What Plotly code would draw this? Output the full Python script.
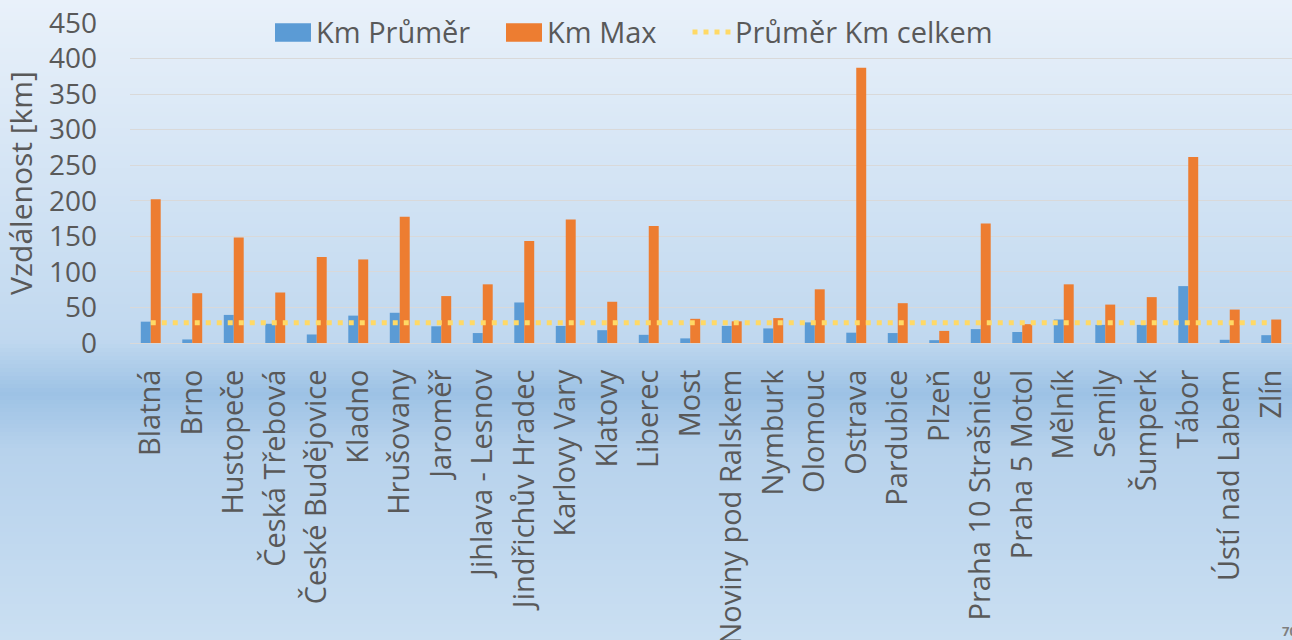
import plotly.graph_objects as go

categories = ["Blatná", "Brno", "Hustopeče", "Česká Třebová", "České Budějovice", "Kladno",
              "Hrušovany", "Jaroměř", "Jihlava - Lesnov", "Jindřichův Hradec", "Karlovy Vary",
              "Klatovy", "Liberec", "Most", "Noviny pod Ralskem", "Nymburk", "Olomouc", "Ostrava",
              "Pardubice", "Plzeň", "Praha 10 Strašnice", "Praha 5 Motol", "Mělník", "Semily",
              "Šumperk", "Tábor", "Ústí nad Labem", "Zlín"]
km_prumer = [30, 5, 39.5, 27, 12, 38.5, 42.5, 23.5, 14, 57, 24, 18, 11.5, 6.5, 24, 20.5, 29,
             14.5, 14, 4, 19.5, 15.5, 33, 25.5, 25.5, 80, 4.5, 11]
km_max = [202, 70, 148.5, 71, 121, 117.5, 177.5, 66, 82.5, 143.5, 173.5, 58, 164.5, 34, 30.5,
          35, 75.5, 387, 56, 17, 168, 26.5, 82.5, 54, 64.5, 261.5, 47, 33]
prumer_celkem = 28.5
y_ticks = [0, 50, 100, 150, 200, 250, 300, 350, 400, 450]
series_names = ["Km Průměr", "Km Max", "Průměr Km celkem"]
series_colors = ["#5B9BD5", "#ED7D31", "#FFD966"]

FONT = "Open Sans"
TXT = "#595959"
W, H = 1292, 640
M_L, M_R, M_T, M_B = 130, 0, 23, 297
ph = H - M_T - M_B
pw = W - M_L - M_R


def px_x(p):
    return (p - M_L) / pw


def px_y(p):
    return (H - M_B - p) / ph


fig = go.Figure()
fig.add_trace(go.Bar(name=series_names[0], x=categories, y=km_prumer,
                     marker_color=series_colors[0], marker_line_width=0))
fig.add_trace(go.Bar(name=series_names[1], x=categories, y=km_max,
                     marker_color=series_colors[1], marker_line_width=0))
fig.add_trace(go.Scatter(name=series_names[2], x=categories,
                         y=[prumer_celkem] * len(categories), mode="lines",
                         line=dict(color=series_colors[2], width=5, dash="5px,6px")))

# background gradient (stripes in paper coordinates)
stops = [(0, (233, 241, 250)), (340, (192, 216, 239)), (393, (157, 194, 229)),
         (450, (183, 210, 236)), (640, (202, 223, 242))]


def col_at(p):
    for (p0, c0), (p1, c1) in zip(stops[:-1], stops[1:]):
        if p0 <= p <= p1:
            t = (p - p0) / (p1 - p0)
            return "rgb(%d,%d,%d)" % tuple(round(a + (b - a) * t) for a, b in zip(c0, c1))
    return "rgb(%d,%d,%d)" % stops[-1][1]


shapes = []
step = 4
for p in range(0, H, step):
    shapes.append(dict(type="rect", xref="paper", yref="paper", x0=px_x(-5), x1=px_x(W + 5),
                       y0=px_y(p + step), y1=px_y(p), fillcolor=col_at(p + step / 2),
                       line_width=0, layer="below"))

# legend (drawn manually to match swatch sizes)
leg_y_top, leg_y_bot, leg_y_mid = 23.3, 41.7, 32
swatches = [(275, 311), (506, 542)]
text_x = [314, 545, 733]
annotations = []
for (a, b), c in zip(swatches, series_colors[:2]):
    shapes.append(dict(type="rect", xref="paper", yref="paper", x0=px_x(a), x1=px_x(b),
                       y0=px_y(leg_y_bot), y1=px_y(leg_y_top), fillcolor=c, line_width=0,
                       layer="above"))
shapes.append(dict(type="line", xref="paper", yref="paper", x0=px_x(692.5), x1=px_x(733),
                   y0=px_y(leg_y_mid), y1=px_y(leg_y_mid),
                   line=dict(color=series_colors[2], width=5, dash="5px,6px"), layer="above"))
for name, tx in zip(series_names, text_x):
    annotations.append(dict(text=name, x=px_x(tx), xref="paper", xanchor="left",
                            y=px_y(leg_y_mid), yref="paper", yanchor="middle",
                            showarrow=False, font=dict(size=29, color=TXT, family=FONT)))
annotations.append(dict(text="<b>70</b>", x=px_x(1280), xref="paper", xanchor="left",
                        y=px_y(631), yref="paper", yanchor="middle", showarrow=False,
                        font=dict(size=13, color="#7F7F7F", family=FONT)))

fig.update_layout(
    width=W, height=H,
    margin=dict(l=M_L, r=M_R, t=M_T, b=M_B, autoexpand=False),
    paper_bgcolor="rgb(200,220,240)",
    plot_bgcolor="rgba(0,0,0,0)",
    font=dict(family=FONT, color=TXT, size=29),
    barmode="group", bargap=0.52, bargroupgap=0,
    shapes=shapes,
    showlegend=False,
    annotations=annotations,
)
fig.update_xaxes(tickangle=-90, tickfont=dict(size=29, color=TXT, family=FONT),
                 showline=True, linecolor="#D9D9D9", linewidth=1, showgrid=False,
                 ticks="", ticklabelstandoff=14, automargin=False)
fig.update_yaxes(range=[0, 450], tickvals=y_ticks, showgrid=True, gridcolor="#D9D9D9",
                 gridwidth=1, zeroline=True, zerolinecolor="#D9D9D9", zerolinewidth=1,
                 tickfont=dict(size=28, color=TXT, family=FONT), ticklabelstandoff=32,
                 title=dict(text="Vzdálenost [km]", font=dict(size=30, color=TXT, family=FONT),
                            standoff=10),
                 automargin=False)

fig.write_html("out.html", config={"displayModeBar": False},
               post_script="document.body.style.margin='0';document.body.style.overflow='hidden';")
